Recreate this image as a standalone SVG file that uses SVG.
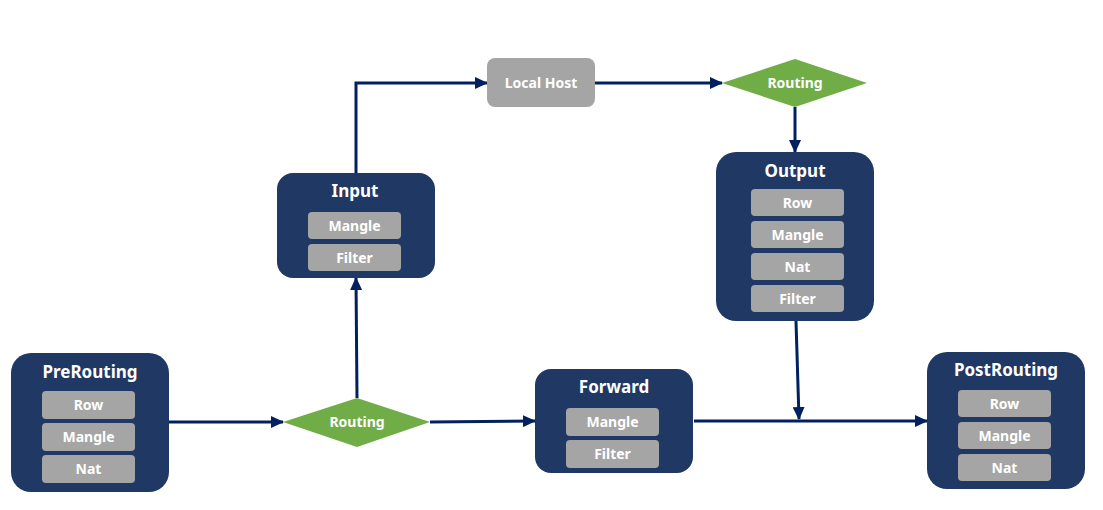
<svg xmlns="http://www.w3.org/2000/svg" width="1103" height="510" viewBox="0 0 1103 510">
<style>
.box{fill:#203864}
.item{fill:#A5A5A5}
.dia{fill:#70AD47}
.title{font-family:"Noto Sans","Liberation Sans",sans-serif;font-weight:bold;font-size:17px;fill:#fff;text-anchor:middle}
.lbl{font-family:"Noto Sans","Liberation Sans",sans-serif;font-weight:bold;font-size:14px;fill:#fff;text-anchor:middle}
.con{fill:none;stroke:#002060;stroke-width:3}
</style>
<defs>
<marker id="arr" markerUnits="userSpaceOnUse" markerWidth="13" markerHeight="12" refX="12" refY="6" orient="auto">
<path d="M0,0 L13,6 L0,12 z" fill="#002060"/>
</marker>
</defs>
<rect width="1103" height="510" fill="#fff"/>
<g id="connectors">
<path class="con" d="M169,422 L283,422" marker-end="url(#arr)"/>
<path class="con" d="M430,422 L535,421" marker-end="url(#arr)"/>
<path class="con" d="M357,398 L356,278" marker-end="url(#arr)"/>
<path class="con" d="M356,173 L356,83 L487,83" marker-end="url(#arr)"/>
<path class="con" d="M595,83 L722,83" marker-end="url(#arr)"/>
<path class="con" d="M795,107 L795,152" marker-end="url(#arr)"/>
<path class="con" d="M694,421 L927,421" marker-end="url(#arr)"/>
<path class="con" d="M796,321 L799,419" marker-end="url(#arr)"/>
</g>
<g id="prerouting">
<rect class="box" x="11" y="353" width="158" height="139" rx="20"/>
<text class="title" x="90" y="378">PreRouting</text>
<rect class="item" x="42" y="391" width="93" height="28" rx="4"/>
<text class="lbl" x="88.5" y="410">Row</text>
<rect class="item" x="42" y="423" width="93" height="28" rx="4"/>
<text class="lbl" x="88.5" y="442">Mangle</text>
<rect class="item" x="42" y="455" width="93" height="28" rx="4"/>
<text class="lbl" x="88.5" y="474">Nat</text>
</g>
<g id="routing1">
<polygon class="dia" points="283,422 357,398 430,422 357,447"/>
<text class="lbl" x="357" y="427">Routing</text>
</g>
<g id="input">
<rect class="box" x="277" y="173" width="158" height="105" rx="16"/>
<text class="title" x="355" y="197">Input</text>
<rect class="item" x="308" y="212" width="93" height="27" rx="4"/>
<text class="lbl" x="354.5" y="231">Mangle</text>
<rect class="item" x="308" y="244" width="93" height="27" rx="4"/>
<text class="lbl" x="354.5" y="263">Filter</text>
</g>
<g id="localhost">
<rect class="item" x="487" y="58" width="108" height="49" rx="8"/>
<text class="lbl" x="541" y="88" font-size="13">Local Host</text>
</g>
<g id="routing2">
<polygon class="dia" points="722,83 795,59 867,83 795,107"/>
<text class="lbl" x="795" y="88">Routing</text>
</g>
<g id="output">
<rect class="box" x="716" y="152" width="158" height="169" rx="20"/>
<text class="title" x="795" y="177">Output</text>
<rect class="item" x="751" y="189" width="93" height="27" rx="4"/>
<text class="lbl" x="797.5" y="208">Row</text>
<rect class="item" x="751" y="221" width="93" height="27" rx="4"/>
<text class="lbl" x="797.5" y="240">Mangle</text>
<rect class="item" x="751" y="253" width="93" height="27" rx="4"/>
<text class="lbl" x="797.5" y="272">Nat</text>
<rect class="item" x="751" y="285" width="93" height="27" rx="4"/>
<text class="lbl" x="797.5" y="304">Filter</text>
</g>
<g id="forward">
<rect class="box" x="535" y="369" width="158" height="104" rx="16"/>
<text class="title" x="614" y="393">Forward</text>
<rect class="item" x="566" y="408" width="93" height="28" rx="4"/>
<text class="lbl" x="612.5" y="427">Mangle</text>
<rect class="item" x="566" y="440" width="93" height="28" rx="4"/>
<text class="lbl" x="612.5" y="459">Filter</text>
</g>
<g id="postrouting">
<rect class="box" x="927" y="352" width="158" height="137" rx="20"/>
<text class="title" x="1006" y="376">PostRouting</text>
<rect class="item" x="958" y="390" width="93" height="27" rx="4"/>
<text class="lbl" x="1004.5" y="409">Row</text>
<rect class="item" x="958" y="422" width="93" height="27" rx="4"/>
<text class="lbl" x="1004.5" y="441">Mangle</text>
<rect class="item" x="958" y="454" width="93" height="27" rx="4"/>
<text class="lbl" x="1004.5" y="473">Nat</text>
</g>
</svg>
